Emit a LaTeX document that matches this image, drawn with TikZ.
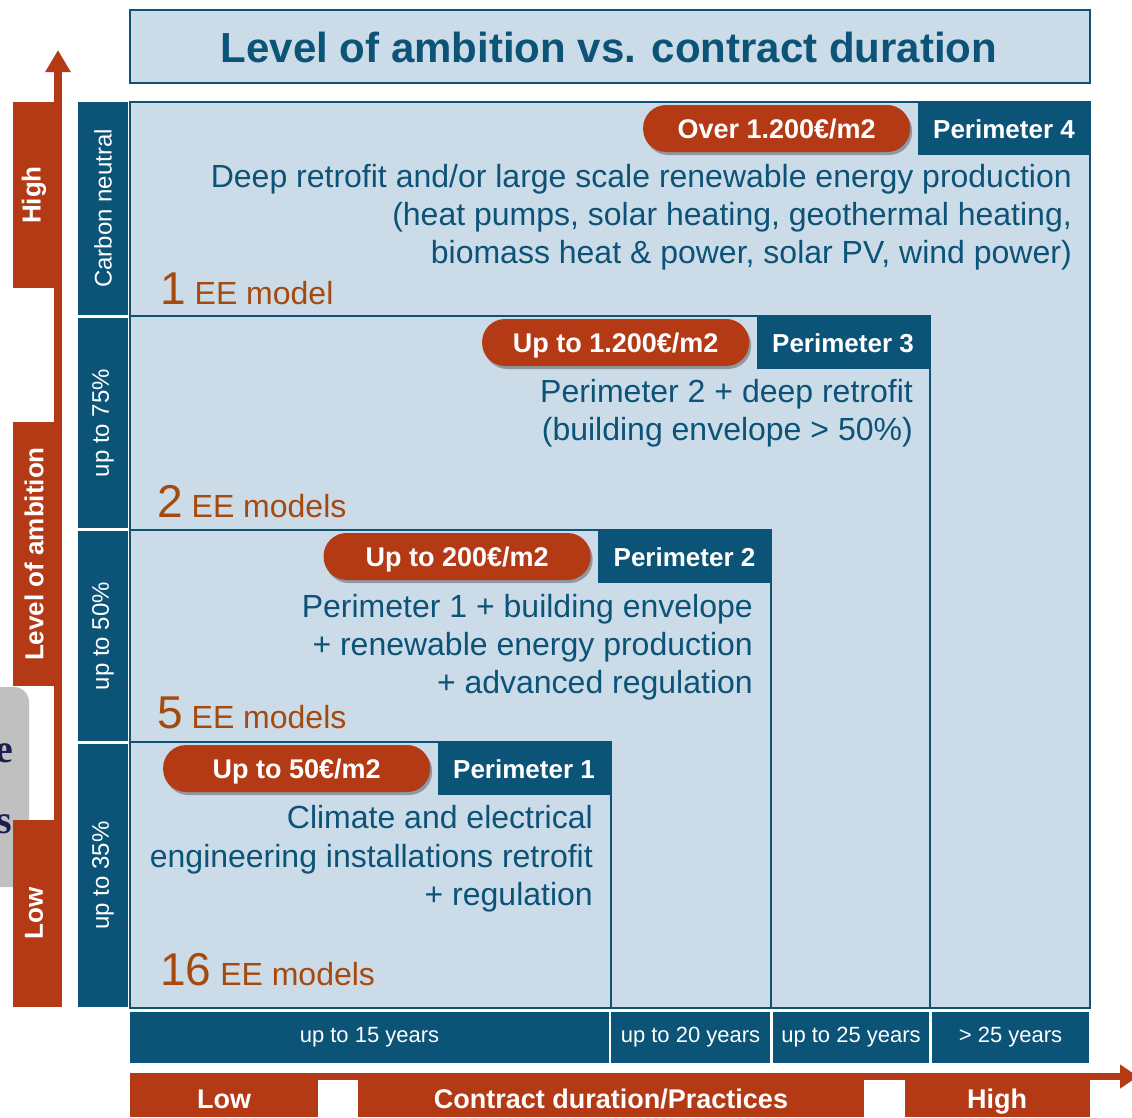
\documentclass[tikz,border=0pt]{standalone}
\usepackage{fontspec}
\setmainfont{Liberation Sans}
\newfontfamily\cutserif{Liberation Serif}
\usetikzlibrary{positioning, shadows, arrows.meta}

\definecolor{navy}{RGB}{12,83,120}
\definecolor{paleblue}{RGB}{203,219,232}
\definecolor{rust}{RGB}{180,58,22}
\definecolor{eebrown}{RGB}{165,74,14}
\definecolor{sidegray}{RGB}{192,192,192}
\definecolor{inknavy}{RGB}{28,28,80}

\tikzset{
    frame/.style={draw=navy, line width=2pt, fill=paleblue},
    pill/.style={fill=rust, text=white, rounded corners=23pt, minimum width=267pt, minimum height=47pt, inner sep=0pt,
        text height=19pt, text depth=0pt,
        font=\bfseries\fontsize{27}{30}\selectfont,
        drop shadow={shadow xshift=2pt, shadow yshift=-3pt, opacity=0.3, fill=black}},
    tabbox/.style={fill=navy, text=white, minimum width=173pt, minimum height=53pt, inner sep=0pt,
        text height=19pt, text depth=0pt,
        font=\bfseries\fontsize{26}{30}\selectfont},
    bodytext/.style={text=navy, anchor=base east, inner sep=0pt, font=\fontsize{32}{36}\selectfont},
    eelabel/.style={text=eebrown, anchor=base west, inner sep=0pt, font=\fontsize{32}{36}\selectfont},
    levellabel/.style={text=white, rotate=90, inner sep=0pt, font=\fontsize{24}{28}\selectfont},
    yearlabel/.style={text=white, inner sep=0pt, font=\fontsize{22}{25}\selectfont},
    ambitionlabel/.style={text=white, rotate=90, inner sep=0pt, font=\bfseries\fontsize{26}{30}\selectfont},
    durationlabel/.style={text=white, anchor=base, inner sep=0pt, font=\bfseries\fontsize{27}{30}\selectfont},
    cutletter/.style={text=inknavy, anchor=base east, inner sep=0pt, font=\cutserif\bfseries\fontsize{40}{40}\selectfont}
}
\newcommand{\bignum}[1]{{\fontsize{46}{46}\selectfont #1}}

\begin{document}
\begin{tikzpicture}[x=1pt, y=-1pt]
        \useasboundingbox (0, 0) rectangle (1132, 1117);

        \fill[sidegray, rounded corners=15pt] (-30, 687) rectangle (29, 887);
        \node[cutletter] at (13, 762) (cute) {e};
        \node[cutletter] at (12, 833) (cuts) {s};

        \draw[frame] (130, 10) rectangle (1090, 83);
        \node[text=navy, font=\bfseries\fontsize{42}{48}\selectfont] at (609, 47) (title) {Level of ambition vs. contract duration};

        \draw[frame] (130, 102) rectangle (1090, 1008);
        \draw[frame] (130, 316) rectangle (930, 1008);
        \draw[frame] (130, 530) rectangle (771, 1008);
        \draw[frame] (130, 742) rectangle (611, 1008);

        \node[tabbox] at (1004, 128.5) (tab4) {Perimeter 4};
        \node[tabbox] at (843, 342.5)  (tab3) {Perimeter 3};
        \node[tabbox] at (684.5, 556.5) (tab2) {Perimeter 2};
        \node[tabbox] at (524, 768.5)  (tab1) {Perimeter 1};

        \node[pill, left=7pt of tab4] (cost4) {Over 1.200€/m2};
        \node[pill, left=7pt of tab3] (cost3) {Up to 1.200€/m2};
        \node[pill, left=7pt of tab2] (cost2) {Up to 200€/m2};
        \node[pill, left=7pt of tab1] (cost1) {Up to 50€/m2};

        \node[bodytext] at (1072, 187) (p4a) {Deep retrofit and/or large scale renewable energy production};
        \node[bodytext] at (1072, 225) (p4b) {(heat pumps, solar heating, geothermal heating,};
        \node[bodytext] at (1072, 263) (p4c) {biomass heat \& power, solar PV, wind power)};
        \node[bodytext] at (913, 402) (p3a) {Perimeter 2 + deep retrofit};
        \node[bodytext] at (913, 440) (p3b) {(building envelope > 50\%)};
        \node[bodytext] at (753, 617) (p2a) {Perimeter 1 + building envelope};
        \node[bodytext] at (753, 655) (p2b) {+ renewable energy production};
        \node[bodytext] at (753, 693) (p2c) {+ advanced regulation};
        \node[bodytext] at (593, 828) (p1a) {Climate and electrical};
        \node[bodytext] at (593, 867) (p1b) {engineering installations retrofit};
        \node[bodytext] at (593, 905) (p1c) {+ regulation};

        \node[eelabel] at (160, 304) (ee4) {\bignum{1} EE model};
        \node[eelabel] at (157, 517) (ee3) {\bignum{2} EE models};
        \node[eelabel] at (157, 728) (ee2) {\bignum{5} EE models};
        \node[eelabel] at (160, 985) (ee1) {\bignum{16} EE models};

        \fill[navy] (78, 102) rectangle (128, 315);
        \fill[navy] (78, 318) rectangle (128, 528);
        \fill[navy] (78, 531) rectangle (128, 741);
        \fill[navy] (78, 744) rectangle (128, 1007);
        \node[levellabel] at (103, 208.5) (lvl4) {Carbon neutral};
        \node[levellabel] at (103, 423)   (lvl3) {up to 75\%};
        \node[levellabel] at (103, 636)   (lvl2) {up to 50\%};
        \node[levellabel] at (103, 875.5) (lvl1) {up to 35\%};

        \fill[navy] (130, 1012) rectangle (609, 1063);
        \fill[navy] (611, 1012) rectangle (770, 1063);
        \fill[navy] (773, 1012) rectangle (929, 1063);
        \fill[navy] (932, 1012) rectangle (1089, 1063);
        \node[yearlabel] at (369.5, 1037.5) (yr1) {up to 15 years};
        \node[yearlabel] at (690.5, 1037.5) (yr2) {up to 20 years};
        \node[yearlabel] at (851, 1037.5)   (yr3) {up to 25 years};
        \node[yearlabel] at (1010.5, 1037.5) (yr4) {> 25 years};

        \coordinate (ambbase) at (58, 1007);
        \coordinate (ambtip) at (58, 50);
        \draw[rust, line width=8pt, -{Triangle[width=24pt, length=22pt]}] (ambbase) -- (ambtip);
        \fill[rust] (13, 102) rectangle (62, 288);
        \fill[rust] (13, 422) rectangle (62, 686);
        \fill[rust] (13, 820) rectangle (62, 1007);
        \node[ambitionlabel] at (34, 195) (ambhigh) {High};
        \node[ambitionlabel] at (34, 554) (ambname) {Level of ambition};
        \node[ambitionlabel] at (34, 913) (amblow) {Low};

        \coordinate (durbase) at (130, 1076.5);
        \coordinate (durtip) at (1138, 1076.5);
        \draw[rust, line width=7pt, -{Triangle[width=23pt, length=18pt]}] (durbase) -- (durtip);
        \fill[rust] (130, 1073) rectangle (318, 1117);
        \fill[rust] (358, 1073) rectangle (864, 1117);
        \fill[rust] (905, 1073) rectangle (1090, 1117);
        \node[durationlabel] at (224, 1108) (durlow) {Low};
        \node[durationlabel] at (611, 1108) (durname) {Contract duration/Practices};
        \node[durationlabel] at (997, 1108) (durhigh) {High};
\end{tikzpicture}
\end{document}
